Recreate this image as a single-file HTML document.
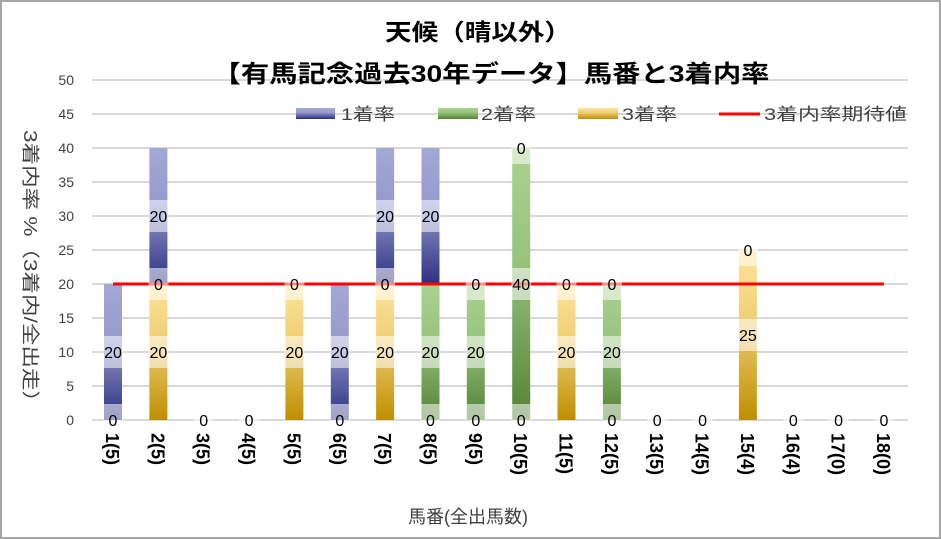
<!DOCTYPE html>
<html><head><meta charset="utf-8"><style>
body{margin:0;background:#fff}
svg{display:block;font-family:"Liberation Sans","Noto Sans CJK JP",sans-serif}
</style></head><body>
<svg width="941" height="539" viewBox="0 0 941 539" xmlns="http://www.w3.org/2000/svg">
<defs>
<linearGradient id="gb" x1="0" y1="0" x2="0" y2="1"><stop offset="0" stop-color="#a3a8d6"/><stop offset="0.4" stop-color="#969bcc"/><stop offset="1" stop-color="#2b3182"/></linearGradient>
<linearGradient id="gg" x1="0" y1="0" x2="0" y2="1"><stop offset="0" stop-color="#aad28f"/><stop offset="0.4" stop-color="#98c47e"/><stop offset="1" stop-color="#548235"/></linearGradient>
<linearGradient id="gy" x1="0" y1="0" x2="0" y2="1"><stop offset="0" stop-color="#fde49a"/><stop offset="0.4" stop-color="#f0cf78"/><stop offset="1" stop-color="#bf8f00"/></linearGradient>
</defs>
<rect x="1" y="1" width="939" height="537" fill="#fff" stroke="#a6a6a6" stroke-width="2"/>
<g stroke="#d9d9d9" stroke-width="2">
<line x1="92" y1="420" x2="908" y2="420"/><line x1="92" y1="386" x2="908" y2="386"/>
<line x1="92" y1="352" x2="908" y2="352"/><line x1="92" y1="318" x2="908" y2="318"/>
<line x1="92" y1="284" x2="908" y2="284"/><line x1="92" y1="250" x2="908" y2="250"/>
<line x1="92" y1="216" x2="908" y2="216"/><line x1="92" y1="182" x2="908" y2="182"/>
<line x1="92" y1="148" x2="908" y2="148"/><line x1="92" y1="114" x2="908" y2="114"/>
<line x1="92" y1="80" x2="908" y2="80"/>
</g>
<g font-size="14" fill="#404040" text-anchor="end">
<text x="74" y="425">0</text><text x="74" y="391">5</text><text x="74" y="357">10</text>
<text x="74" y="323">15</text><text x="74" y="289">20</text><text x="74" y="255">25</text>
<text x="74" y="221">30</text><text x="74" y="187">35</text><text x="74" y="153">40</text>
<text x="74" y="119">45</text><text x="74" y="85">50</text>
</g>
<text x="478" y="40" font-size="23" font-weight="bold" text-anchor="middle" textLength="186" lengthAdjust="spacingAndGlyphs">天候（晴以外）</text>
<text x="491" y="82" font-size="24" font-weight="bold" text-anchor="middle" textLength="557" lengthAdjust="spacingAndGlyphs">【有馬記念過去30年データ】馬番と3着内率</text>
<rect x="296" y="108" width="39" height="11" fill="url(#gb)"/>
<text x="341" y="120" font-size="17" fill="#404040" textLength="54" lengthAdjust="spacingAndGlyphs">1着率</text>
<rect x="438" y="108" width="40" height="11" fill="url(#gg)"/>
<text x="481" y="120" font-size="17" fill="#404040" textLength="55" lengthAdjust="spacingAndGlyphs">2着率</text>
<rect x="578" y="108" width="40" height="11" fill="url(#gy)"/>
<text x="622" y="120" font-size="17" fill="#404040" textLength="55" lengthAdjust="spacingAndGlyphs">3着率</text>
<line x1="719" y1="114" x2="760" y2="114" stroke="#ff0000" stroke-width="3"/>
<text x="764" y="120" font-size="17" fill="#404040" textLength="143" lengthAdjust="spacingAndGlyphs">3着内率期待値</text>
<rect x="104" y="284" width="18" height="136" fill="url(#gb)"/>
<rect x="149.4" y="284" width="18" height="136" fill="url(#gy)"/>
<rect x="149.4" y="148" width="18" height="136" fill="url(#gb)"/>
<rect x="285.4" y="284" width="18" height="136" fill="url(#gy)"/>
<rect x="330.8" y="284" width="18" height="136" fill="url(#gb)"/>
<rect x="376.1" y="284" width="18" height="136" fill="url(#gy)"/>
<rect x="376.1" y="148" width="18" height="136" fill="url(#gb)"/>
<rect x="421.5" y="284" width="18" height="136" fill="url(#gg)"/>
<rect x="421.5" y="148" width="18" height="136" fill="url(#gb)"/>
<rect x="466.8" y="284" width="18" height="136" fill="url(#gg)"/>
<rect x="512.2" y="148" width="18" height="272" fill="url(#gg)"/>
<rect x="557.5" y="284" width="18" height="136" fill="url(#gy)"/>
<rect x="602.9" y="284" width="18" height="136" fill="url(#gg)"/>
<rect x="738.9" y="250" width="18" height="170" fill="url(#gy)"/>
<line x1="113" y1="284" x2="884" y2="284" stroke="#ff0000" stroke-width="3"/>
<g fill="#fff" fill-opacity="0.55">
<rect x="103" y="336" width="20" height="32"/><rect x="103" y="404" width="20" height="32"/>
<rect x="148.4" y="336" width="20" height="32"/><rect x="148.4" y="268" width="20" height="32"/><rect x="148.4" y="200" width="20" height="32"/>
<rect x="193.7" y="404" width="20" height="32"/><rect x="239.1" y="404" width="20" height="32"/>
<rect x="284.4" y="336" width="20" height="32"/><rect x="284.4" y="268" width="20" height="32"/>
<rect x="329.8" y="336" width="20" height="32"/><rect x="329.8" y="404" width="20" height="32"/>
<rect x="375.1" y="336" width="20" height="32"/><rect x="375.1" y="268" width="20" height="32"/><rect x="375.1" y="200" width="20" height="32"/>
<rect x="420.5" y="404" width="20" height="32"/><rect x="420.5" y="336" width="20" height="32"/><rect x="420.5" y="200" width="20" height="32"/>
<rect x="465.8" y="404" width="20" height="32"/><rect x="465.8" y="336" width="20" height="32"/><rect x="465.8" y="268" width="20" height="32"/>
<rect x="511.2" y="404" width="20" height="32"/><rect x="511.2" y="268" width="20" height="32"/><rect x="511.2" y="132" width="20" height="32"/>
<rect x="556.5" y="336" width="20" height="32"/><rect x="556.5" y="268" width="20" height="32"/>
<rect x="601.9" y="404" width="20" height="32"/><rect x="601.9" y="336" width="20" height="32"/><rect x="601.9" y="268" width="20" height="32"/>
<rect x="647.2" y="404" width="20" height="32"/><rect x="692.6" y="404" width="20" height="32"/>
<rect x="737.9" y="319" width="20" height="32"/><rect x="737.9" y="234" width="20" height="32"/>
<rect x="783.3" y="404" width="20" height="32"/><rect x="828.6" y="404" width="20" height="32"/><rect x="874" y="404" width="20" height="32"/>
</g>
<g font-size="16" fill="#000" text-anchor="middle">
<text x="113" y="358">20</text><text x="113" y="426">0</text>
<text x="158.4" y="358">20</text><text x="158.4" y="290">0</text><text x="158.4" y="222">20</text>
<text x="203.7" y="426">0</text><text x="249.1" y="426">0</text>
<text x="294.4" y="358">20</text><text x="294.4" y="290">0</text>
<text x="339.8" y="358">20</text><text x="339.8" y="426">0</text>
<text x="385.1" y="358">20</text><text x="385.1" y="290">0</text><text x="385.1" y="222">20</text>
<text x="430.5" y="426">0</text><text x="430.5" y="358">20</text><text x="430.5" y="222">20</text>
<text x="475.8" y="426">0</text><text x="475.8" y="358">20</text><text x="475.8" y="290">0</text>
<text x="521.2" y="426">0</text><text x="521.2" y="290">40</text><text x="521.2" y="154">0</text>
<text x="566.5" y="358">20</text><text x="566.5" y="290">0</text>
<text x="611.9" y="426">0</text><text x="611.9" y="358">20</text><text x="611.9" y="290">0</text>
<text x="657.2" y="426">0</text><text x="702.6" y="426">0</text>
<text x="747.9" y="341">25</text><text x="747.9" y="256">0</text>
<text x="793.3" y="426">0</text><text x="838.6" y="426">0</text><text x="884" y="426">0</text>
</g>
<g font-size="18" font-weight="bold" fill="#000">
<text transform="translate(106,433) rotate(90)">1(5)</text>
<text transform="translate(151.4,433) rotate(90)">2(5)</text>
<text transform="translate(196.7,433) rotate(90)">3(5)</text>
<text transform="translate(242.1,433) rotate(90)">4(5)</text>
<text transform="translate(287.4,433) rotate(90)">5(5)</text>
<text transform="translate(332.8,433) rotate(90)">6(5)</text>
<text transform="translate(378.1,433) rotate(90)">7(5)</text>
<text transform="translate(423.5,433) rotate(90)">8(5)</text>
<text transform="translate(468.8,433) rotate(90)">9(5)</text>
<text transform="translate(514.2,433) rotate(90)">10(5)</text>
<text transform="translate(559.5,433) rotate(90)">11(5)</text>
<text transform="translate(604.9,433) rotate(90)">12(5)</text>
<text transform="translate(650.2,433) rotate(90)">13(5)</text>
<text transform="translate(695.6,433) rotate(90)">14(5)</text>
<text transform="translate(740.9,433) rotate(90)">15(4)</text>
<text transform="translate(786.3,433) rotate(90)">16(4)</text>
<text transform="translate(831.6,433) rotate(90)">17(0)</text>
<text transform="translate(877,433) rotate(90)">18(0)</text>
</g>
<text x="468" y="523" font-size="18" fill="#404040" text-anchor="middle">馬番(全出馬数)</text>
<text transform="translate(24,130) rotate(90)" font-size="18" fill="#404040" textLength="283" lengthAdjust="spacingAndGlyphs">3着内率 %（3着内/全出走）</text>
</svg>
</body></html>
